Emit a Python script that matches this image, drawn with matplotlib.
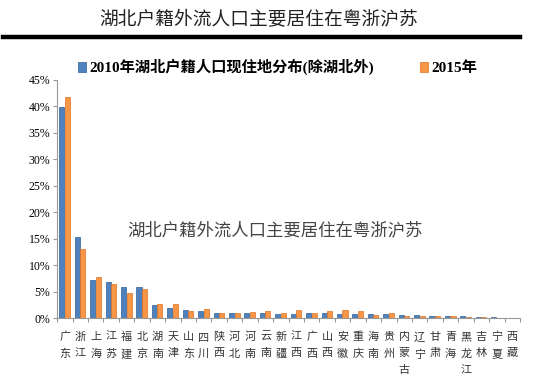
import matplotlib.pyplot as plt
import numpy as np
from matplotlib.lines import Line2D

plt.rcParams['font.family'] = ['Noto Sans CJK SC', 'DejaVu Sans']

provinces = ['广东', '浙江', '上海', '江苏', '福建', '北京', '湖南', '天津', '山东', '四川',
             '陕西', '河北', '河南', '云南', '新疆', '江西', '广西', '山西', '安徽', '重庆',
             '海南', '贵州', '内蒙古', '辽宁', '甘肃', '青海', '黑龙江', '吉林', '宁夏', '西藏']
share_2010 = [39.8, 15.4, 7.1, 6.9, 5.9, 5.8, 2.4, 1.95, 1.5, 1.3,
              1.0, 1.0, 1.0, 1.0, 0.8, 0.8, 0.9, 0.9, 0.8, 0.8,
              0.7, 0.7, 0.6, 0.6, 0.4, 0.3, 0.3, 0.2, 0.2, 0.05]
share_2015 = [41.7, 13.1, 7.8, 6.4, 4.7, 5.4, 2.7, 2.65, 1.3, 1.8,
              0.9, 1.0, 1.2, 1.3, 0.9, 1.5, 0.9, 1.4, 1.5, 1.3,
              0.6, 1.0, 0.4, 0.3, 0.3, 0.3, 0.2, 0.2, 0.1, 0.05]
yticks = [0, 5, 10, 15, 20, 25, 30, 35, 40, 45]

title = '湖北户籍外流人口主要居住在粤浙沪苏'
label_2010 = '2010年湖北户籍人口现住地分布(除湖北外)'
label_2015 = '2015年'

fig = plt.figure(figsize=(5.45, 3.8), dpi=100)
ax = fig.add_axes([0.105, 0.163, 0.849, 0.627])

x = np.arange(len(provinces))
w = 0.33
b1 = ax.bar(x - 0.2, share_2010, width=w, color='#4F81BD', edgecolor='#2F5F9A',
            linewidth=0.5, label=label_2010)
b2 = ax.bar(x + 0.16, share_2015, width=w, color='#F79646', edgecolor='#E07020',
            linewidth=0.5, label=label_2015)

ax.set_xlim(-0.5, len(provinces) - 0.5)
ax.set_ylim(0, 45)
ax.set_yticks(yticks)
ax.set_yticklabels([f'{v}%' for v in yticks], family='Liberation Serif', fontsize=8.5)
ax.tick_params(axis='y', length=3, color='#999999', pad=2)

# ticks between the groups, labels stacked vertically
ax.set_xticks(np.arange(len(provinces) + 1) - 0.5)
ax.set_xticklabels([])
ax.tick_params(axis='x', length=3, color='#999999')
for i, name in enumerate(provinces):
    ax.text(i, -2.6, '\n'.join(name), ha='center', va='top', fontsize=8,
            color='#333333', linespacing=1.8)

for side in ['top', 'right']:
    ax.spines[side].set_visible(False)
for side in ['left', 'bottom']:
    ax.spines[side].set_color('#999999')
    ax.spines[side].set_linewidth(0.8)

# watermark in the plot area
ax.text(0.47, 0.37, title, transform=ax.transAxes, ha='center', va='center',
        fontsize=12.5, color='#444444')

fig.text(0.475, 0.947, title, ha='center', va='center', fontsize=13.5, color='#222222')
fig.add_artist(Line2D([0.005, 0.955], [0.902, 0.902], color='black', linewidth=3.2,
                      transform=fig.transFigure))

leg = fig.legend(handles=[b1, b2], loc='center', bbox_to_anchor=(0.51, 0.823), ncol=2,
                 frameon=False, handlelength=0.5, handleheight=0.7, handletextpad=0.25,
                 columnspacing=3.0,
                 prop={'family': ['Liberation Serif', 'Noto Sans CJK SC'],
                       'weight': 'bold', 'size': 11})

fig.savefig('out.png', dpi=100)
